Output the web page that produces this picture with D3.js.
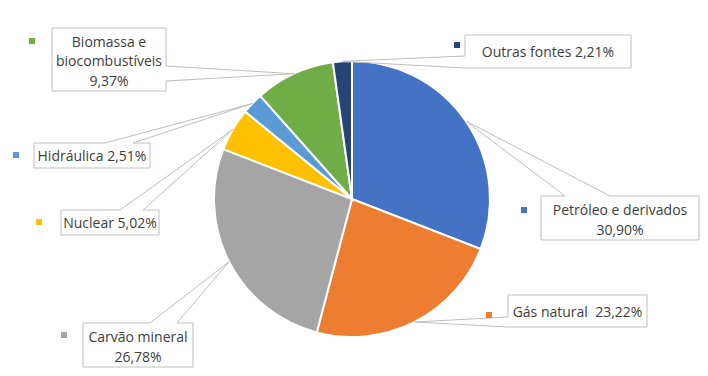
<!DOCTYPE html>
<html>
<head>
<meta charset="utf-8">
<script src="https://cdn.jsdelivr.net/npm/d3@7"></script>
<style>
  body { margin: 0; background: #fff; }
  text { font-family: "Open Sans", sans-serif; font-size: 14px; fill: #404040; white-space: pre; }
</style>
</head>
<body>
<div id="chart"></div>
<script>
// fontes de energia (%)
var fontes = ["Petróleo e derivados", "Gás natural", "Carvão mineral", "Nuclear", "Hidráulica", "Biomassa e biocombustíveis", "Outras fontes"];
var valores = [30.90, 23.22, 26.78, 5.02, 2.51, 9.37, 2.21];
var cores = ["#4472C4", "#ED7D31", "#A5A5A5", "#FFC000", "#5B9BD5", "#70AD47", "#264478"];
// text lines of each callout (same order)
var rotulos = [
  ["Petróleo e derivados", "30,90%"],
  ["Gás natural  23,22%"],
  ["Carvão mineral", "26,78%"],
  ["Nuclear 5,02%"],
  ["Hidráulica 2,51%"],
  ["Biomassa e", "biocombustíveis", "9,37%"],
  ["Outras fontes 2,21%"]
];

// callout layout: box, side of the wedge, wedge base offsets, legend marker
var caixas = [
  { x: 541, y: 196, w: 158, h: 44, side: "top", b1: 24, b2: 69, mx: 524, my: 210 },
  { x: 508, y: 295, w: 139, h: 32, side: "left", b1: 22, b2: 32, mx: 489, my: 315 },
  { x: 83, y: 323, w: 110, h: 44, side: "top", b1: 67, b2: 94, mx: 64, my: 335 },
  { x: 61, y: 210, w: 98, h: 25, side: "top", b1: 59, b2: 82, mx: 39, my: 222 },
  { x: 34, y: 143, w: 116, h: 25, side: "top", b1: 71, b2: 99, mx: 16, my: 155 },
  { x: 52, y: 28, w: 114, h: 63, side: "right", b1: 38, b2: 53, mx: 32, my: 41 },
  { x: 465, y: 35, w: 166, h: 33, side: "left", b1: 21, b2: 33, mx: 457, my: 45 }
];

var width = 708, height = 376;
var cx = 352, cy = 199, radius = 138;

var svg = d3.select("#chart").append("svg")
  .attr("width", width)
  .attr("height", height);

var pie = d3.pie().sort(null).value(d => d);
var arcs = pie(valores);

var arc = d3.arc().innerRadius(0).outerRadius(radius);
var tipArc = d3.arc().innerRadius(radius).outerRadius(radius);

var g = svg.append("g").attr("transform", "translate(" + cx + "," + cy + ")");

g.selectAll("path.fatia")
  .data(arcs)
  .enter().append("path")
  .attr("class", "fatia")
  .attr("d", arc)
  .attr("fill", (d, i) => cores[i])
  .attr("stroke", "#fff")
  .attr("stroke-width", 2);

function calloutPath(c, tip) {
  var x = c.x, y = c.y, w = c.w, h = c.h;
  var p = [];
  if (c.side == "top") {
    p = [[x, y], [x + c.b1, y], tip, [x + c.b2, y], [x + w, y], [x + w, y + h], [x, y + h]];
  } else if (c.side == "right") {
    p = [[x, y], [x + w, y], [x + w, y + c.b1], tip, [x + w, y + c.b2], [x + w, y + h], [x, y + h]];
  } else {
    p = [[x, y], [x + w, y], [x + w, y + h], [x, y + h], [x, y + c.b2], tip, [x, y + c.b1]];
  }
  return "M" + p.map(q => q[0] + "," + q[1]).join("L") + "Z";
}

var labels = svg.selectAll("g.rotulo")
  .data(arcs)
  .enter().append("g")
  .attr("class", "rotulo");

labels.append("path")
  .attr("d", (d, i) => {
    var t = tipArc.centroid(d);
    return calloutPath(caixas[i], [t[0] + cx, t[1] + cy]);
  })
  .attr("fill", "#fff")
  .attr("stroke", "#BFBFBF")
  .attr("stroke-width", 1);

labels.append("rect")
  .attr("x", (d, i) => caixas[i].mx - 3)
  .attr("y", (d, i) => caixas[i].my - 3)
  .attr("width", 6)
  .attr("height", 6)
  .attr("fill", (d, i) => cores[i]);

labels.each(function(d, i) {
  var c = caixas[i];
  var linhas = rotulos[i];
  var lh = 19.5;
  var y0 = c.y + c.h / 2 - (linhas.length - 1) * lh / 2 + (linhas.length > 1 ? 2 : 1);
  d3.select(this).selectAll("text")
    .data(linhas)
    .enter().append("text")
    .attr("x", c.x + c.w / 2)
    .attr("y", (t, k) => y0 + k * lh)
    .attr("dy", "0.35em")
    .attr("text-anchor", "middle")
    .text(t => t);
});
</script>
</body>
</html>
